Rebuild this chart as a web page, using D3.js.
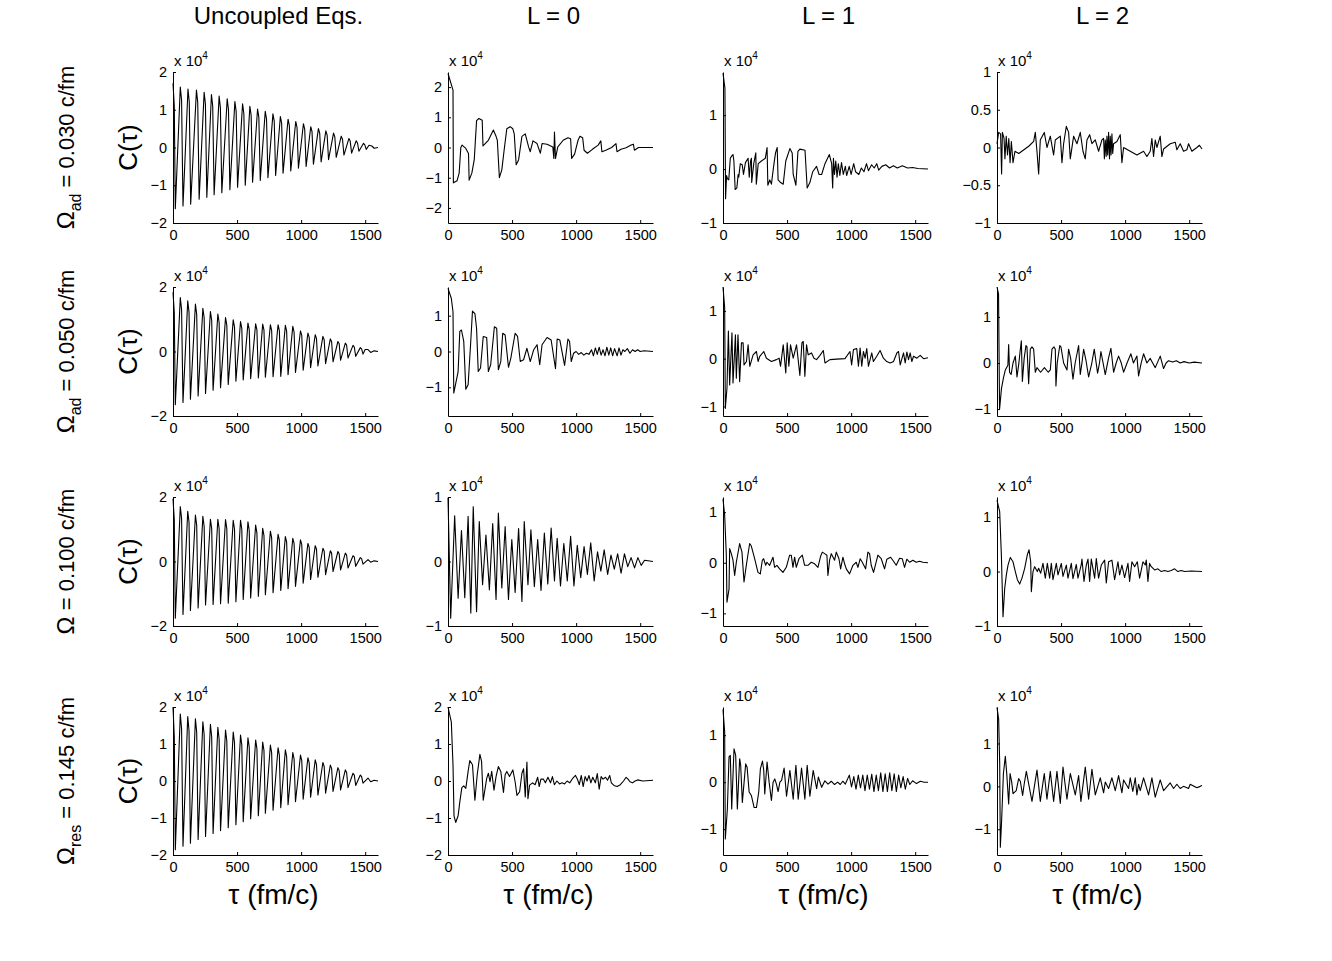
<!DOCTYPE html>
<html>
<head>
<meta charset="utf-8">
<script src="https://cdn.jsdelivr.net/npm/d3@7"></script>
<style>
  body { margin: 0; background: #fff; }
  text { font-family: "Liberation Sans", Arial, sans-serif; fill: #000; }
</style>
</head>
<body>
<div class="chart"></div>
<script>
// column titles, row labels (Omega, subscript, value)
var colTitles = ["Uncoupled Eqs.", "L = 0", "L = 1", "L = 2"];
var rowSubs = ["ad", "ad", "", "res"];
var rowValues = ["0.030", "0.050", "0.100", "0.145"];
var xTicks = [0, 500, 1000, 1500];

// y ranges (units of 1e4) and tick values, row by row
var yDomains = [
  [[-2, 2], [-2.5, 2.5], [-1, 1.8], [-1, 1]],
  [[-2, 2], [-1.8, 1.8], [-1.2, 1.5], [-1.15, 1.65]],
  [[-2, 2], [-1, 1], [-1.25, 1.3], [-1, 1.37]],
  [[-2, 2], [-2, 2], [-1.55, 1.6], [-1.6, 1.85]]
];
var yTicks = [
  [[-2, -1, 0, 1, 2], [-2, -1, 0, 1, 2], [-1, 0, 1], [-1, -0.5, 0, 0.5, 1]],
  [[-2, 0, 2], [-1, 0, 1], [-1, 0, 1], [-1, 0, 1]],
  [[-2, 0, 2], [-1, 0, 1], [-1, 0, 1], [-1, 0, 1]],
  [[-2, -1, 0, 1, 2], [-2, -1, 0, 1, 2], [-1, 0, 1], [-1, 0, 1]]
];

// C(tau), [tau (fm/c), C / 1e4]
var r1c1 = [[0,1.7],[10,1.1],[18,-1.62],[57,1.6],[67,1.25],[78,-1.55],[117,1.55],[127,1.2],[138,-1.5],[183,1.52],[193,1.2],[204,-1.37],[243,1.46],[253,1.15],[264,-1.32],[300,1.4],[310,1.1],[321,-1.25],[360,1.36],[370,1.05],[381,-1.2],[423,1.29],[433,1.0],[444,-1.12],[483,1.22],[493,0.95],[504,-1.05],[543,1.16],[553,0.9],[564,-1.0],[600,1.09],[610,0.85],[621,-0.92],[660,1.02],[670,0.8],[681,-0.87],[720,0.96],[730,0.75],[741,-0.8],[780,0.89],[790,0.7],[801,-0.74],[838,0.82],[848,0.64],[859,-0.68],[898,0.75],[908,0.58],[919,-0.62],[958,0.69],[968,0.53],[979,-0.55],[1018,0.63],[1028,0.48],[1039,-0.5],[1075,0.55],[1085,0.42],[1096,-0.44],[1135,0.5],[1145,0.38],[1156,-0.38],[1193,0.44],[1203,0.33],[1214,-0.32],[1253,0.38],[1263,0.28],[1274,-0.26],[1313,0.3],[1323,0.22],[1334,-0.2],[1373,0.24],[1383,0.17],[1394,-0.15],[1430,0.18],[1440,0.12],[1451,-0.1],[1487,0.11],[1497,0.07],[1508,-0.05],[1530,0.06],[1552,0.04],[1570,-0.02],[1600,0.0]];
var r1c2 = [[0,2.45],[39,1.9],[42,-1.17],[71,-1.1],[87,-0.85],[100,0.0],[110,0.08],[139,-0.03],[160,-0.2],[165,-1.08],[186,-0.85],[205,-0.4],[223,0.89],[241,0.96],[267,0.9],[273,0.05],[315,0.24],[354,0.58],[375,0.37],[385,0.24],[401,-1.0],[420,-0.74],[438,-0.09],[459,0.62],[485,0.69],[506,0.62],[517,0.45],[532,-0.57],[551,-0.41],[577,0.37],[603,0.45],[629,0.02],[642,-0.14],[663,0.22],[695,0.13],[721,-0.19],[734,0.13],[773,0.11],[818,0.02],[826,-0.36],[831,0.51],[839,-0.36],[857,0.02],[899,0.24],[936,0.32],[957,0.29],[965,-0.36],[988,-0.22],[1015,0.24],[1030,0.37],[1051,0.32],[1062,-0.09],[1088,-0.19],[1127,-0.06],[1172,0.08],[1193,0.22],[1201,-0.14],[1232,-0.09],[1277,0.0],[1311,0.13],[1319,-0.14],[1350,-0.06],[1390,-0.01],[1429,0.08],[1447,0.11],[1455,-0.09],[1487,0.0],[1508,0.0],[1600,0.0]];
var r1c3 = [[0,1.78],[15,1.5],[20,-0.55],[28,-0.12],[35,-0.18],[45,-0.2],[57,0.2],[70,0.25],[78,0.27],[85,0.15],[95,-0.38],[108,-0.35],[118,-0.1],[123,-0.15],[135,0.1],[150,0.08],[160,-0.1],[175,0.12],[196,0.2],[205,-0.15],[215,0.15],[222,0.2],[224,-0.25],[240,0.1],[256,0.3],[260,-0.28],[275,0.1],[300,0.15],[330,0.2],[344,0.4],[350,-0.3],[365,-0.2],[378,-0.28],[395,0.05],[410,0.3],[423,0.4],[430,-0.2],[450,-0.25],[470,-0.28],[490,0.15],[522,0.38],[540,0.3],[548,-0.1],[569,-0.3],[585,0.33],[600,0.37],[640,0.35],[657,-0.35],[678,-0.25],[700,-0.05],[730,0.05],[750,-0.1],[770,-0.1],[796,0.1],[830,0.27],[848,0.1],[856,-0.35],[862,0.2],[870,-0.1],[880,0.15],[890,-0.15],[900,0.1],[912,-0.12],[925,0.12],[939,-0.1],[955,0.05],[965,-0.12],[985,0.05],[1000,-0.1],[1020,0.1],[1035,-0.05],[1060,-0.1],[1080,0.02],[1100,-0.05],[1120,0.1],[1135,-0.03],[1160,0.08],[1180,0.02],[1200,0.1],[1215,-0.02],[1240,0.05],[1270,0.08],[1300,0.02],[1330,0.06],[1360,0.02],[1400,0.06],[1440,0.02],[1480,0.03],[1520,0.01],[1600,0.0]];
var r1c4 = [[0,0.05],[13,0.2],[28,0.18],[36,-0.35],[42,0.2],[55,0.12],[62,-0.15],[72,0.15],[82,-0.1],[92,0.12],[102,-0.2],[112,0.08],[125,-0.2],[140,-0.05],[170,-0.08],[210,-0.03],[250,0.02],[286,0.08],[299,0.2],[312,-0.05],[325,-0.35],[338,0.1],[369,0.2],[390,0.0],[416,0.15],[442,-0.1],[455,0.1],[494,0.15],[507,-0.2],[520,0.05],[541,0.28],[559,0.2],[572,-0.15],[598,0.15],[624,0.05],[650,0.2],[671,-0.05],[689,-0.15],[702,0.1],[723,0.17],[741,0.05],[767,0.1],[793,-0.05],[819,0.1],[832,0.12],[838,-0.15],[845,0.1],[852,-0.12],[858,0.15],[864,-0.1],[871,0.2],[878,-0.15],[884,0.15],[890,-0.1],[897,0.18],[903,-0.08],[910,0.05],[936,0.08],[962,0.17],[975,-0.2],[988,0.0],[1040,-0.05],[1092,-0.1],[1144,-0.05],[1170,-0.12],[1196,-0.05],[1209,0.12],[1222,-0.12],[1235,0.1],[1248,0.0],[1274,0.15],[1287,-0.12],[1300,-0.02],[1352,0.05],[1391,0.07],[1404,-0.03],[1430,0.05],[1456,-0.05],[1482,-0.03],[1495,0.05],[1521,-0.05],[1560,0.0],[1580,0.03],[1600,-0.02]];

var r2c1 = [[0,1.84],[10,1.2],[18,-1.65],[57,1.67],[67,1.3],[78,-1.58],[115,1.57],[125,1.22],[136,-1.48],[175,1.47],[185,1.15],[196,-1.38],[233,1.34],[243,1.05],[254,-1.3],[292,1.24],[302,0.97],[313,-1.2],[350,1.16],[360,0.9],[371,-1.12],[410,1.05],[420,0.82],[431,-1.02],[470,0.98],[480,0.76],[491,-0.92],[527,0.93],[537,0.72],[548,-0.88],[585,0.88],[595,0.68],[606,-0.84],[645,0.86],[655,0.67],[666,-0.82],[700,0.85],[710,0.66],[721,-0.8],[760,0.83],[770,0.65],[781,-0.78],[820,0.83],[830,0.65],[841,-0.77],[877,0.81],[887,0.63],[898,-0.72],[935,0.78],[945,0.6],[956,-0.65],[995,0.64],[1005,0.5],[1016,-0.58],[1053,0.57],[1063,0.44],[1074,-0.5],[1110,0.52],[1120,0.4],[1131,-0.45],[1170,0.47],[1180,0.36],[1191,-0.38],[1228,0.39],[1238,0.3],[1249,-0.32],[1287,0.31],[1297,0.24],[1308,-0.27],[1345,0.26],[1355,0.2],[1366,-0.2],[1405,0.19],[1415,0.14],[1426,-0.15],[1462,0.12],[1472,0.08],[1483,-0.08],[1500,0.06],[1522,0.06],[1543,-0.03],[1570,0.02],[1600,0.0]];
var r2c2 = [[0,1.76],[26,1.48],[39,1.11],[45,-1.16],[79,-0.56],[92,0.56],[105,0.6],[123,0.28],[139,-1.05],[157,-0.93],[176,0.19],[191,1.13],[210,1.06],[223,0.65],[236,-0.56],[254,-0.46],[275,0.42],[302,0.39],[315,-0.56],[333,-0.37],[362,0.69],[380,0.65],[393,-0.51],[412,-0.28],[427,0.51],[446,0.46],[472,-0.44],[490,-0.19],[524,0.51],[543,0.42],[564,-0.28],[590,-0.23],[616,0.09],[642,-0.28],[669,0.05],[695,0.19],[716,-0.37],[734,0.19],[773,0.39],[805,0.32],[839,-0.48],[852,0.35],[873,0.32],[910,-0.39],[936,0.35],[949,0.28],[962,-0.28],[980,-0.05],[1000,0.0],[1020,-0.08],[1040,-0.03],[1060,-0.1],[1080,-0.05],[1100,-0.08],[1120,0.05],[1135,-0.12],[1150,0.1],[1165,-0.08],[1180,0.12],[1195,-0.1],[1210,0.05],[1225,-0.12],[1240,0.12],[1255,-0.1],[1270,0.1],[1285,-0.12],[1300,0.08],[1320,-0.12],[1335,0.1],[1350,-0.1],[1365,0.05],[1380,0.0],[1400,0.08],[1420,-0.05],[1440,0.05],[1460,0.0],[1480,0.05],[1500,0.0],[1530,0.02],[1600,0.0]];
var r2c3 = [[0,1.5],[13,1.07],[18,-1.04],[31,-0.62],[42,0.58],[52,-0.55],[70,0.54],[78,-0.51],[97,0.5],[104,-0.41],[117,0.5],[130,-0.48],[144,0.33],[157,0.33],[164,-0.13],[183,-0.06],[196,0.29],[209,-0.16],[235,0.08],[261,0.15],[274,-0.06],[287,0.05],[318,0.15],[339,0.01],[378,-0.06],[417,-0.02],[438,0.01],[449,-0.16],[470,0.29],[490,-0.3],[501,0.33],[514,-0.16],[527,0.29],[548,0.01],[574,0.29],[600,-0.35],[616,0.33],[626,0.36],[639,-0.37],[652,0.29],[665,0.08],[691,0.12],[710,0.01],[730,-0.02],[757,0.07],[783,0.17],[796,-0.09],[835,-0.02],[887,-0.01],[952,0.0],[991,0.15],[1004,-0.13],[1018,0.19],[1044,0.21],[1057,-0.16],[1070,0.22],[1083,-0.16],[1096,0.15],[1109,0.01],[1122,0.21],[1135,-0.16],[1161,0.12],[1174,-0.06],[1200,0.05],[1226,0.17],[1252,0.01],[1278,-0.06],[1305,-0.09],[1331,-0.06],[1357,0.12],[1370,0.15],[1383,-0.13],[1409,0.12],[1422,-0.09],[1435,0.14],[1448,-0.02],[1461,0.12],[1474,-0.06],[1487,0.05],[1513,0.01],[1539,0.07],[1565,0.0],[1600,0.02]];
var r2c4 = [[0,1.65],[12,1.5],[20,-1.0],[35,-0.55],[50,-0.33],[65,-0.15],[85,-0.05],[91,0.4],[98,-0.2],[110,-0.25],[125,0.0],[143,0.15],[156,-0.3],[170,-0.02],[182,0.3],[190,0.48],[198,-0.4],[212,0.1],[226,0.38],[234,0.35],[247,-0.45],[260,0.3],[273,0.35],[286,0.3],[299,-0.2],[312,-0.1],[340,-0.2],[370,-0.1],[400,-0.2],[416,-0.15],[429,0.3],[445,0.35],[455,0.3],[460,-0.5],[470,0.0],[490,0.38],[499,0.35],[520,0.0],[546,-0.15],[559,0.3],[575,0.1],[593,-0.35],[610,0.0],[637,0.38],[650,-0.25],[663,0.0],[676,0.3],[695,0.05],[715,-0.3],[740,0.0],[759,0.3],[785,-0.22],[800,0.0],[811,0.25],[828,0.0],[845,-0.25],[870,0.1],[889,0.32],[910,-0.2],[930,0.0],[949,0.15],[970,0.0],[988,-0.2],[1015,0.0],[1045,0.2],[1065,0.0],[1092,0.15],[1105,-0.28],[1125,0.0],[1144,0.2],[1170,0.0],[1196,0.1],[1215,0.0],[1235,-0.1],[1274,0.15],[1300,-0.12],[1320,0.0],[1339,0.05],[1370,0.02],[1400,0.05],[1430,0.0],[1460,0.03],[1500,0.0],[1540,0.02],[1600,0.0]];

var r3c1 = [[0,1.95],[10,1.3],[18,-1.76],[57,1.7],[67,1.33],[78,-1.64],[115,1.56],[125,1.22],[136,-1.52],[175,1.44],[185,1.12],[196,-1.44],[233,1.4],[243,1.09],[254,-1.35],[292,1.31],[302,1.02],[313,-1.33],[350,1.31],[360,1.02],[371,-1.31],[410,1.3],[420,1.01],[431,-1.29],[470,1.28],[480,1.0],[491,-1.25],[527,1.28],[537,1.0],[548,-1.18],[585,1.23],[595,0.96],[606,-1.13],[645,1.13],[655,0.88],[666,-1.08],[700,1.03],[710,0.8],[721,-1.03],[760,0.94],[770,0.73],[781,-0.97],[820,0.84],[830,0.66],[841,-0.9],[877,0.77],[887,0.6],[898,-0.84],[935,0.72],[945,0.56],[956,-0.77],[995,0.67],[1005,0.52],[1016,-0.67],[1053,0.56],[1063,0.44],[1074,-0.56],[1110,0.49],[1120,0.38],[1131,-0.49],[1170,0.41],[1180,0.32],[1191,-0.41],[1228,0.33],[1238,0.26],[1249,-0.31],[1287,0.31],[1297,0.24],[1308,-0.26],[1345,0.26],[1355,0.2],[1366,-0.2],[1405,0.18],[1415,0.14],[1426,-0.15],[1462,0.12],[1472,0.09],[1483,-0.08],[1522,0.06],[1543,-0.02],[1570,0.02],[1600,0.0]];
var r3c2 = [[0,0.99],[21,-0.88],[52,0.71],[79,-0.57],[105,0.48],[131,-0.56],[157,0.7],[178,-0.8],[197,0.85],[223,-0.78],[244,0.62],[270,-0.36],[296,0.41],[323,-0.44],[349,0.59],[375,-0.59],[393,0.75],[420,-0.41],[446,0.54],[472,-0.59],[498,0.34],[524,-0.48],[551,0.51],[577,-0.62],[595,0.62],[624,-0.36],[647,0.49],[674,-0.39],[700,0.34],[726,-0.45],[752,0.44],[779,-0.35],[805,0.52],[831,-0.3],[852,0.36],[878,-0.38],[904,0.28],[931,-0.3],[957,0.39],[983,-0.38],[1009,0.25],[1036,-0.25],[1062,0.23],[1088,-0.2],[1114,0.29],[1141,-0.3],[1167,0.15],[1193,-0.15],[1219,0.18],[1246,-0.2],[1272,0.1],[1298,-0.12],[1324,0.12],[1351,-0.18],[1377,0.12],[1403,-0.08],[1429,0.06],[1456,-0.1],[1482,0.06],[1508,-0.06],[1534,0.02],[1600,0.0]];
var r3c3 = [[0,1.26],[13,0.94],[26,0.15],[31,-0.78],[47,-0.52],[52,0.28],[65,0.18],[78,0.05],[91,-0.25],[104,0.01],[130,0.38],[148,0.21],[164,-0.38],[182,-0.05],[208,0.38],[221,0.33],[247,0.08],[273,-0.19],[291,-0.22],[307,0.05],[317,0.08],[333,-0.05],[343,0.01],[364,-0.05],[390,0.11],[403,-0.09],[421,-0.05],[442,-0.12],[468,-0.19],[494,-0.09],[520,0.15],[533,0.15],[546,-0.09],[559,0.11],[572,-0.09],[593,0.08],[619,0.15],[637,-0.05],[663,-0.05],[689,0.01],[715,-0.02],[741,-0.09],[762,0.13],[775,0.21],[793,0.18],[811,0.15],[819,-0.25],[832,0.05],[845,0.18],[871,0.05],[884,0.21],[905,0.08],[918,-0.12],[936,0.11],[949,-0.02],[962,-0.12],[988,-0.22],[1014,-0.05],[1040,0.01],[1053,-0.09],[1071,0.08],[1087,0.01],[1113,-0.12],[1131,0.21],[1144,0.18],[1157,-0.05],[1175,-0.19],[1209,0.15],[1235,0.08],[1261,-0.12],[1279,0.07],[1308,0.11],[1331,0.03],[1352,-0.05],[1378,0.09],[1399,0.08],[1417,-0.09],[1435,0.07],[1456,0.01],[1482,0.05],[1508,0.01],[1534,0.03],[1560,0.01],[1600,0.0]];
var r3c4 = [[0,1.31],[21,1.1],[34,0.31],[47,-0.83],[60,-0.31],[73,-0.06],[86,0.12],[104,0.26],[125,0.18],[143,0.0],[159,-0.15],[177,-0.23],[195,-0.12],[216,0.06],[237,0.31],[250,0.4],[263,0.18],[268,-0.37],[281,0.0],[294,0.09],[315,0.0],[325,0.06],[341,-0.03],[359,0.15],[377,-0.12],[393,0.15],[411,-0.12],[424,0.15],[437,-0.15],[463,0.15],[476,-0.06],[502,0.15],[515,-0.09],[541,0.12],[554,-0.12],[580,0.15],[593,-0.13],[619,0.13],[632,-0.12],[658,0.13],[663,0.23],[679,-0.18],[697,0.12],[710,0.23],[723,-0.18],[736,0.23],[762,-0.12],[775,0.24],[793,-0.12],[814,0.12],[840,0.21],[853,-0.21],[871,0.18],[897,0.21],[918,-0.15],[944,0.18],[957,-0.06],[975,0.12],[996,-0.11],[1022,0.15],[1035,-0.18],[1053,0.18],[1074,0.09],[1095,0.18],[1113,-0.12],[1139,0.18],[1157,0.12],[1165,0.21],[1178,-0.18],[1191,0.15],[1204,0.09],[1230,0.03],[1256,0.05],[1282,0.0],[1308,0.02],[1334,0.0],[1360,0.02],[1386,0.05],[1412,0.0],[1438,0.02],[1464,0.0],[1516,0.01],[1600,0.0]];

var r4c1 = [[0,2.0],[10,1.2],[18,-1.86],[57,1.81],[67,1.41],[78,-1.76],[115,1.74],[125,1.36],[136,-1.68],[175,1.68],[185,1.31],[196,-1.58],[233,1.6],[243,1.25],[254,-1.5],[292,1.53],[302,1.19],[313,-1.42],[350,1.45],[360,1.13],[371,-1.34],[410,1.38],[420,1.08],[431,-1.26],[470,1.32],[480,1.03],[491,-1.18],[527,1.24],[537,0.97],[548,-1.1],[585,1.17],[595,0.91],[606,-1.02],[645,1.11],[655,0.87],[666,-0.94],[700,1.05],[710,0.82],[721,-0.87],[760,0.97],[770,0.76],[781,-0.79],[820,0.9],[830,0.7],[841,-0.72],[877,0.84],[887,0.66],[898,-0.64],[935,0.77],[945,0.6],[956,-0.56],[995,0.7],[1005,0.55],[1016,-0.49],[1053,0.63],[1063,0.49],[1074,-0.44],[1110,0.57],[1120,0.44],[1131,-0.38],[1170,0.5],[1180,0.39],[1191,-0.33],[1228,0.43],[1238,0.34],[1249,-0.28],[1287,0.36],[1297,0.28],[1308,-0.24],[1345,0.3],[1355,0.23],[1366,-0.18],[1405,0.21],[1415,0.16],[1426,-0.12],[1462,0.16],[1472,0.12],[1483,-0.06],[1522,0.08],[1543,-0.02],[1570,0.02],[1600,0.0]];
var r4c2 = [[0,2.0],[26,1.59],[39,0.44],[47,-0.94],[60,-1.12],[79,-0.94],[92,-0.57],[108,-0.18],[123,-0.13],[139,-0.2],[157,0.26],[170,0.55],[191,0.44],[210,-0.52],[228,0.17],[249,0.72],[262,0.53],[275,-0.52],[302,0.07],[315,0.21],[328,-0.02],[341,0.26],[359,-0.25],[375,0.12],[393,0.39],[412,0.26],[433,-0.31],[446,0.17],[459,0.26],[480,0.12],[506,0.3],[524,-0.02],[538,-0.39],[559,-0.29],[577,0.21],[590,0.33],[603,-0.43],[616,0.51],[624,-0.48],[637,-0.11],[660,-0.05],[680,-0.1],[700,0.1],[712,-0.15],[725,0.05],[745,0.05],[760,-0.05],[780,0.1],[800,-0.05],[815,0.12],[830,-0.1],[850,0.0],[870,-0.08],[890,-0.05],[910,-0.08],[930,0.0],[950,-0.05],[975,0.08],[995,0.15],[1010,0.05],[1025,-0.1],[1040,0.15],[1055,-0.15],[1070,0.12],[1085,0.0],[1100,0.15],[1115,-0.05],[1130,0.1],[1150,-0.05],[1165,0.2],[1180,-0.22],[1195,0.12],[1210,0.05],[1230,0.1],[1245,0.02],[1262,0.15],[1275,-0.05],[1295,-0.12],[1320,-0.15],[1345,-0.1],[1370,0.0],[1390,0.1],[1405,0.05],[1420,-0.02],[1440,-0.05],[1460,0.0],[1480,0.03],[1520,0.0],[1600,0.02]];
var r4c3 = [[0,1.55],[13,1.07],[18,-1.21],[34,-0.57],[47,0.54],[57,0.57],[68,-0.57],[86,0.71],[99,0.57],[112,-0.57],[130,0.5],[138,0.36],[151,-0.43],[177,0.39],[188,0.32],[204,-0.21],[222,-0.29],[243,-0.54],[261,-0.54],[279,-0.21],[292,0.29],[308,0.45],[318,0.25],[326,-0.25],[344,0.43],[360,0.0],[378,-0.39],[391,0.0],[404,0.07],[417,-0.04],[430,-0.2],[444,0.0],[457,0.04],[477,0.3],[496,-0.3],[522,0.25],[548,-0.36],[569,0.36],[587,-0.36],[613,0.3],[639,-0.36],[657,0.36],[678,-0.3],[704,0.25],[731,-0.14],[744,0.11],[770,-0.11],[795,0.03],[820,-0.04],[845,0.02],[870,-0.05],[895,0.0],[915,-0.05],[935,0.02],[955,-0.04],[986,0.15],[1003,-0.1],[1021,0.12],[1038,-0.15],[1056,0.15],[1073,-0.12],[1091,0.15],[1108,-0.18],[1126,0.15],[1143,-0.15],[1161,0.17],[1178,-0.2],[1196,0.15],[1213,-0.18],[1231,0.2],[1248,-0.2],[1266,0.18],[1283,-0.2],[1301,0.2],[1318,-0.18],[1336,0.18],[1353,-0.2],[1371,0.15],[1388,-0.12],[1406,0.12],[1423,-0.15],[1441,0.08],[1458,-0.05],[1480,0.03],[1510,-0.03],[1540,0.02],[1570,0.0],[1600,0.0]];
var r4c4 = [[0,1.84],[13,1.56],[21,0.54],[26,-1.42],[36,-0.8],[50,0.3],[65,0.7],[76,0.3],[91,-0.41],[102,0.3],[115,0.1],[125,-0.17],[150,-0.1],[169,0.18],[182,0.12],[200,-0.21],[212,0.05],[229,0.35],[273,-0.35],[312,0.38],[338,-0.35],[369,0.3],[390,-0.3],[416,0.35],[442,-0.35],[468,0.35],[494,-0.4],[515,0.45],[546,-0.3],[572,0.3],[611,-0.2],[637,0.25],[655,-0.35],[689,0.45],[715,-0.3],[741,0.4],[767,-0.2],[806,0.2],[832,-0.15],[845,0.1],[871,-0.05],[897,0.2],[923,-0.1],[949,0.25],[975,-0.15],[988,0.15],[1027,-0.05],[1040,0.2],[1060,-0.12],[1079,0.2],[1092,-0.2],[1105,0.05],[1118,-0.1],[1144,0.2],[1183,-0.2],[1209,0.2],[1235,-0.25],[1274,0.15],[1300,-0.1],[1352,0.08],[1378,-0.05],[1404,0.05],[1430,-0.05],[1456,0.0],[1495,-0.05],[1508,0.05],[1560,-0.03],[1586,0.0],[1600,0.02]];

var series = [
  [r1c1, r1c2, r1c3, r1c4],
  [r2c1, r2c2, r2c3, r2c4],
  [r3c1, r3c2, r3c3, r3c4],
  [r4c1, r4c2, r4c3, r4c4]
];

// layout of the 4x4 grid (pixels)
var svgWidth = 1332, svgHeight = 961;
var colLeft = [173, 448, 723, 997];
var plotW = 205;
var rowTop = [72, 287, 497, 707];
var rowBottom = [223, 416, 626, 855];
var font = "'Liberation Sans', Arial, sans-serif";

var svg = d3.select(".chart")
  .append("svg")
  .attr("width", svgWidth)
  .attr("height", svgHeight)
  .style("background", "#fff");

var fmt = d3.format("~g");

series.forEach(function(row, r) {
  var h = rowBottom[r] - rowTop[r];
  row.forEach(function(data, c) {
    var g = svg.append("g")
      .attr("transform", `translate(${colLeft[c]}, ${rowTop[r]})`);

    var x = d3.scaleLinear().domain([0, 1600]).range([0, plotW]);
    var y = d3.scaleLinear().domain(yDomains[r][c]).range([h, 0]);

    var xAxis = g.append("g")
      .attr("transform", `translate(0, ${h})`)
      .call(d3.axisBottom(x).tickValues(xTicks).tickSize(-3).tickSizeOuter(0).tickPadding(7).tickFormat(fmt));
    var yAxis = g.append("g")
      .call(d3.axisLeft(y).tickValues(yTicks[r][c]).tickSize(-3).tickSizeOuter(0).tickPadding(6).tickFormat(fmt));

    [xAxis, yAxis].forEach(function(a) {
      a.attr("font-family", font).attr("font-size", 14.5);
      a.selectAll("path, line").attr("stroke", "#000").attr("stroke-width", 1);
      a.selectAll("text").attr("fill", "#000");
    });

    // the line
    g.append("path")
      .datum(data)
      .attr("fill", "none")
      .attr("stroke", "#000")
      .attr("stroke-width", 1.1)
      .attr("stroke-linejoin", "round")
      .attr("d", d3.line().x(d => x(d[0])).y(d => y(d[1])));

    // exponent label
    var ex = g.append("text")
      .attr("x", 1)
      .attr("y", -6)
      .attr("font-size", 15);
    ex.append("tspan").text("x 10");
    ex.append("tspan").attr("font-size", 10).attr("dy", -7).text("4");

    // column titles
    if (r === 0) {
      svg.append("text")
        .attr("x", colLeft[c] + plotW / 2 + 3)
        .attr("y", 24)
        .attr("text-anchor", "middle")
        .attr("font-size", 24)
        .text(colTitles[c]);
    }
    // x labels on the bottom row
    if (r === 3) {
      svg.append("text")
        .attr("x", colLeft[c] + plotW / 2 - 2)
        .attr("y", 904)
        .attr("text-anchor", "middle")
        .attr("font-size", 28)
        .text("\u03c4 (fm/c)");
    }
  });

  var midY = (rowTop[r] + rowBottom[r]) / 2;

  // y label
  svg.append("text")
    .attr("transform", `translate(137, ${midY}) rotate(-90)`)
    .attr("text-anchor", "middle")
    .attr("font-size", 26)
    .text("C(\u03c4)");

  // row label
  var lab = svg.append("text")
    .attr("transform", `translate(74, ${midY}) rotate(-90)`)
    .attr("text-anchor", "middle")
    .attr("font-size", 22);
  lab.append("tspan").attr("font-size", 24).text("\u03a9");
  if (rowSubs[r]) {
    lab.append("tspan").attr("font-size", 16).attr("dy", 7).text(rowSubs[r]);
    lab.append("tspan").attr("dy", -7).text(" = " + rowValues[r] + " c/fm");
  } else {
    lab.append("tspan").text(" = " + rowValues[r] + " c/fm");
  }
});
</script>
</body>
</html>
